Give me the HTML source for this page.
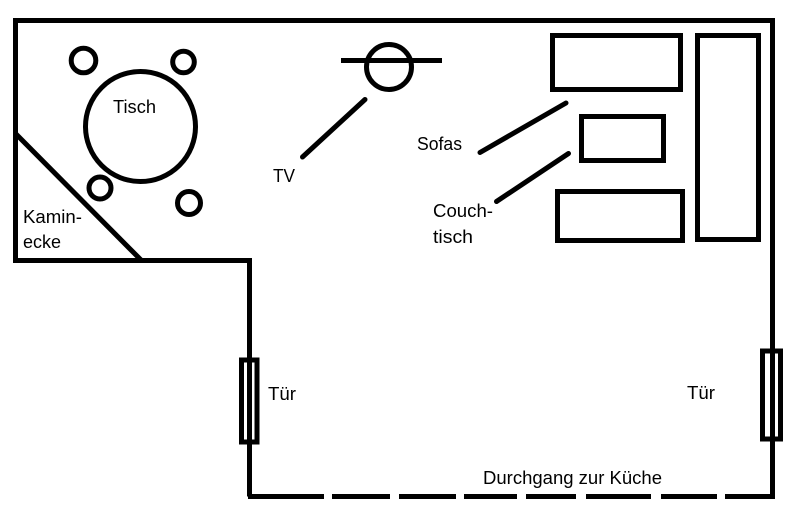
<!DOCTYPE html>
<html lang="de">
<head>
<meta charset="utf-8">
<title>Raumplan</title>
<style>
html,body{margin:0;padding:0;background:#fff;width:804px;height:516px;overflow:hidden}
svg{display:block}
text{font-family:"Liberation Sans",sans-serif;font-size:18px;fill:#000}
</style>
</head>
<body>
<svg width="804" height="516" viewBox="0 0 804 516" xmlns="http://www.w3.org/2000/svg">
<rect width="804" height="516" fill="#fff"/>
<g fill="none" stroke="#000" stroke-width="5">
  <path d="M15.5 260.5V20.5H772.5V496.5" stroke-linejoin="miter"/>
  <path d="M13 260.5H249.5V496.5"/>
  <path d="M15 133L141 260"/>
  <circle cx="140.5" cy="126.5" r="55"/>
  <circle cx="83.5" cy="60.5" r="12.3"/>
  <circle cx="183.5" cy="62" r="10.8"/>
  <circle cx="100" cy="188" r="11"/>
  <circle cx="189" cy="203" r="11.5"/>
  <circle cx="389" cy="67" r="22.5"/>
  <path d="M341 60.5H442"/>
  <g stroke-linecap="round">
    <path d="M302.500 157L365 99.500"/>
    <path d="M480 152.500L566 103"/>
    <path d="M496.500 201.500L568.500 153.500"/>
  </g>
  <rect x="552.500" y="35.500" width="128" height="54"/>
  <rect x="581.500" y="116.500" width="82" height="44"/>
  <rect x="557.500" y="191.500" width="125" height="49"/>
  <rect x="697.500" y="35.500" width="61" height="204"/>
  <rect x="241.500" y="360" width="15.500" height="82" fill="#fff"/>
  <path d="M249.500 358V444"/>
  <rect x="762.500" y="351" width="18" height="88" fill="#fff"/>
  <path d="M772.500 349V441"/>
  <path d="M248 496.500H324M332 496.500H390M399 496.500H456M464 496.500H517M526 496.500H576M586 496.500H651M661 496.500H717M725 496.500H775"/>
</g>
<text x="113" y="113" textLength="43" lengthAdjust="spacingAndGlyphs">Tisch</text>
<text x="23" y="223" textLength="59" lengthAdjust="spacingAndGlyphs">Kamin-</text>
<text x="23" y="248" textLength="38" lengthAdjust="spacingAndGlyphs">ecke</text>
<text x="273" y="182" textLength="22" lengthAdjust="spacingAndGlyphs">TV</text>
<text x="417" y="150" textLength="45" lengthAdjust="spacingAndGlyphs">Sofas</text>
<text x="433" y="217" textLength="60" lengthAdjust="spacingAndGlyphs">Couch-</text>
<text x="433" y="243" textLength="40" lengthAdjust="spacingAndGlyphs">tisch</text>
<text x="268" y="400" textLength="28" lengthAdjust="spacingAndGlyphs">Tür</text>
<text x="687" y="399" textLength="28" lengthAdjust="spacingAndGlyphs">Tür</text>
<text x="483" y="484" textLength="179" lengthAdjust="spacingAndGlyphs">Durchgang zur Küche</text>
</svg>
</body>
</html>
